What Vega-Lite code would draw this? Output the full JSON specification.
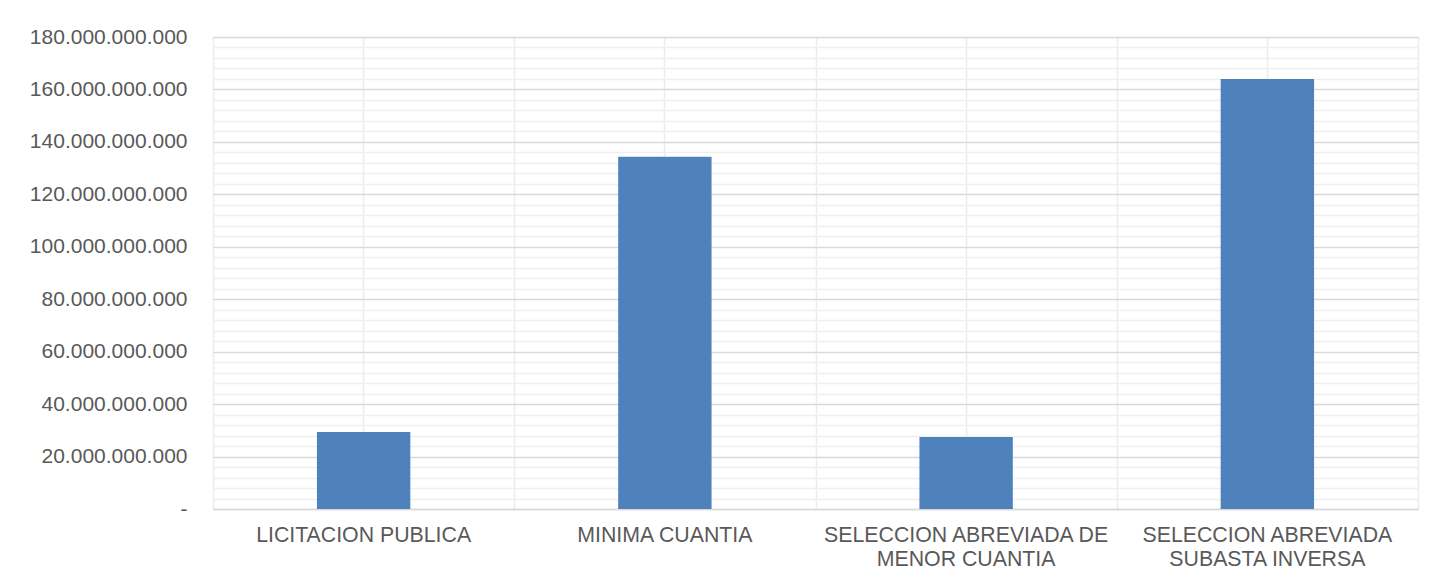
{
  "$schema": "https://vega.github.io/schema/vega-lite/v6.json",
  "width": 1205,
  "height": 472,
  "autosize": {"type": "none"},
  "padding": {"left": 213, "top": 37, "right": 31, "bottom": 74},
  "background": "white",
  "config": {"view": {"stroke": null}, "font": "Liberation Sans"},
  "data": {
    "values": [
      {"modalidad": "LICITACION PUBLICA", "valor": 29400000000},
      {"modalidad": "MINIMA CUANTIA", "valor": 134300000000},
      {"modalidad": "SELECCION ABREVIADA DE MENOR CUANTIA", "valor": 27500000000},
      {"modalidad": "SELECCION ABREVIADA SUBASTA INVERSA", "valor": 164000000000}
    ]
  },
  "layer": [
    {
      "mark": {"type": "bar", "opacity": 0},
      "encoding": {
        "x": {
          "field": "modalidad", "type": "nominal", "sort": null,
          "scale": {"paddingInner": 0, "paddingOuter": 0},
          "axis": {"orient": "top", "title": null, "labels": false, "ticks": false, "domain": false, "grid": true, "tickBand": "extent", "gridColor": "#ececec", "gridWidth": 1.5}
        },
        "y": {
          "field": "valor", "type": "quantitative",
          "scale": {"domain": [0, 180000000000], "nice": false},
          "axis": {"orient": "right", "title": null, "labels": false, "ticks": false, "domain": false, "grid": true, "gridColor": "#efefef", "gridWidth": 1.5,
            "values": [4000000000, 8000000000, 12000000000, 16000000000, 24000000000, 28000000000, 32000000000, 36000000000, 44000000000, 48000000000, 52000000000, 56000000000, 64000000000, 68000000000, 72000000000, 76000000000, 84000000000, 88000000000, 92000000000, 96000000000, 104000000000, 108000000000, 112000000000, 116000000000, 124000000000, 128000000000, 132000000000, 136000000000, 144000000000, 148000000000, 152000000000, 156000000000, 164000000000, 168000000000, 172000000000, 176000000000]}
        }
      }
    },
    {
      "mark": {"type": "bar", "color": "#4f81bd", "width": {"band": 0.31}},
      "encoding": {
        "x": {
          "field": "modalidad", "type": "nominal", "sort": null,
          "scale": {"paddingInner": 0, "paddingOuter": 0},
          "axis": {"orient": "bottom", "title": null, "labelAngle": 0, "ticks": false, "grid": true, "gridColor": "#ececec", "gridWidth": 1.5,
            "domainColor": "#d9d9d9", "domainWidth": 1.5,
            "labelFont": "Liberation Sans", "labelFontSize": 21.3, "labelColor": "#595959", "labelPadding": 15, "labelLimit": 0, "labelLineHeight": 24,
            "labelExpr": "datum.label == 'SELECCION ABREVIADA DE MENOR CUANTIA' ? ['SELECCION ABREVIADA DE', 'MENOR CUANTIA'] : datum.label == 'SELECCION ABREVIADA SUBASTA INVERSA' ? ['SELECCION ABREVIADA', 'SUBASTA INVERSA'] : datum.label"}
        },
        "y": {
          "field": "valor", "type": "quantitative",
          "scale": {"domain": [0, 180000000000], "nice": false},
          "axis": {"orient": "left", "title": null, "ticks": false, "domain": false, "grid": true, "gridColor": "#d9d9d9", "gridWidth": 1.5,
            "values": [0, 20000000000, 40000000000, 60000000000, 80000000000, 100000000000, 120000000000, 140000000000, 160000000000, 180000000000],
            "labelFont": "Liberation Sans", "labelFontSize": 21, "labelColor": "#595959", "labelPadding": 26, "labelLimit": 0,
            "labelExpr": "datum.value == 0 ? '-\u00a0\u00a0\u00a0\u00a0' : replace(format(datum.value, ',d'), regexp(',', 'g'), '.')"}
        }
      }
    }
  ],
  "resolve": {"axis": {"x": "independent", "y": "independent"}}
}
